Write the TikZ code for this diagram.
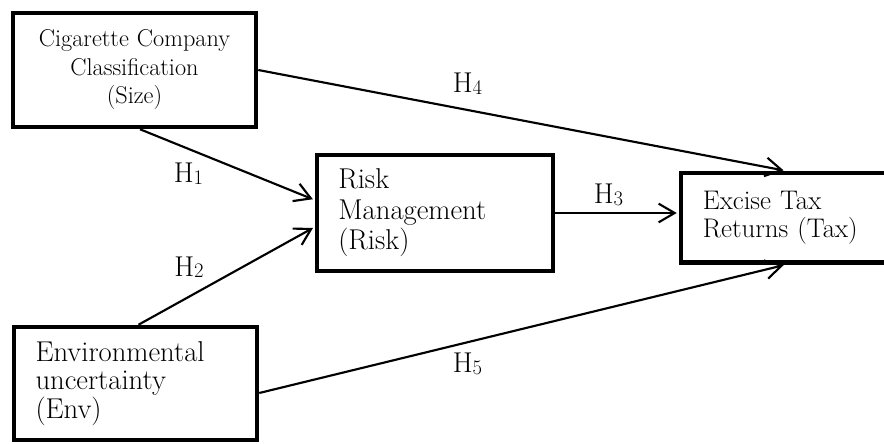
\documentclass[tikz,border=0pt]{standalone}
\usepackage{tikz}
\usetikzlibrary{arrows.meta,calc}
\newcommand\Hyp[1]{H\raisebox{-1.5pt}{\fontsize{15.5}{15.5}\selectfont #1}}
\tikzset{
	varbox/.style={draw, line width=3.4pt, inner xsep=16pt, align=left},
	hyparrow/.style={line width=1.6pt, -{Straight Barb[length=12pt,width=14pt]}, shorten >=1.5pt},
	hyplabel/.style={anchor=base, inner sep=0pt, font=\fontsize{21.5}{24}\selectfont}
}

\begin{document}
\begin{tikzpicture}[x=0.75pt,y=0.75pt]
	% page size - the tax box runs off the right edge
	\useasboundingbox (0,0) rectangle (884,443);
	\clip (0,0) rectangle (884,443);
	% the four variables
	\node[varbox, align=center, inner xsep=6pt, text width=170pt, minimum width=182.25pt, minimum height=85.5pt, font=\fontsize{18.2}{21.4}\selectfont] (size) at (134.5,373) {Cigarette Company\\Classification\\(Size)};
	\node[varbox, text width=145pt, minimum width=177pt, minimum height=87pt, font=\fontsize{21.5}{22.9}\selectfont] (risk) at (435,230) {Risk\\Management\\(Risk)};
	\node[varbox, text width=124pt, minimum width=156.75pt, minimum height=67.1pt, font=\fontsize{20.2}{21}\selectfont] (tax) at (785.5,225.25) {Excise Tax\\Returns (Tax)};
	\node[varbox, text width=150pt, minimum width=182.25pt, minimum height=84.75pt, font=\fontsize{21.5}{21.2}\selectfont] (env) at (135.5,59.5) {Environmental\\uncertainty\\(Env)};
	% the hypotheses
	\draw[hyparrow] ($(size.south)+(5.5,0)$) -- ($(risk.west)+(0,13)$);
	\draw[hyparrow] ($(env.north)+(3,0)$) -- ($(risk.west)+(0,-14)$);
	\draw[hyparrow] (risk.east) -- (risk.east -| tax.west);
	\draw[hyparrow] (size.east) -- (tax.north);
	\draw[hyparrow] ($(env.east)+(0,-9.5)$) -- (tax.south);
	% labels
	\node[hyplabel] (h1) at (188.5,260) {\Hyp{1}};
	\node[hyplabel] (h2) at (189,167) {\Hyp{2}};
	\node[hyplabel] (h3) at (608.5,239) {\Hyp{3}};
	\node[hyplabel] (h4) at (467.5,350) {\Hyp{4}};
	\node[hyplabel] (h5) at (467.5,70.5) {\Hyp{5}};
\end{tikzpicture}
\end{document}
